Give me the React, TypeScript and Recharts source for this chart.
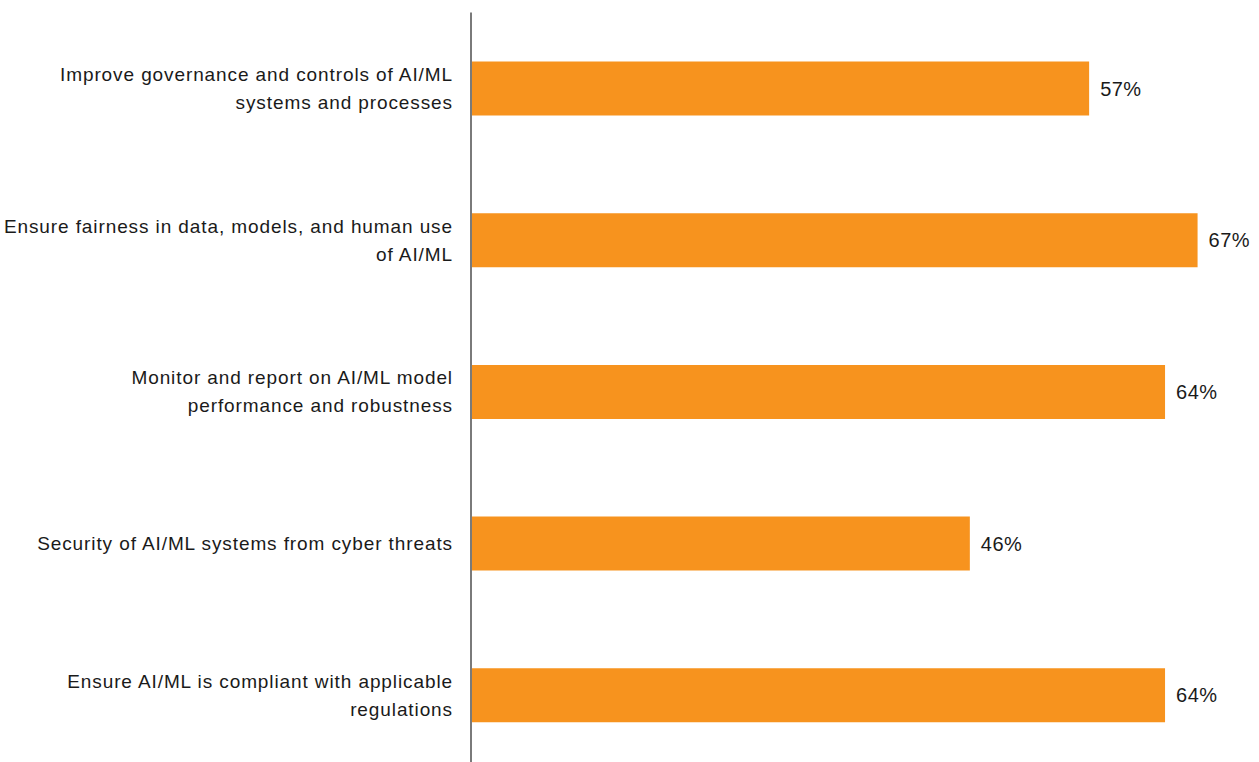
import React from "react";
import { BarChart, Bar, XAxis, YAxis, LabelList } from "recharts";

const categories: string[] = [
  "Improve governance and controls of AI/ML\nsystems and processes",
  "Ensure fairness in data, models, and human use\nof AI/ML",
  "Monitor and report on AI/ML model\nperformance and robustness",
  "Security of AI/ML systems from cyber threats",
  "Ensure AI/ML is compliant with applicable\nregulations",
];
const values: number[] = [57, 67, 64, 46, 64];

const data = categories.map((c, i) => ({ name: c, value: values[i] }));

const FONT = "'Liberation Sans', Arial, Helvetica, sans-serif";

const CategoryTick = (props: any) => {
  const { x, y, payload } = props;
  const lines: string[] = String(payload.value).split("\n");
  const lh = 28;
  const start = -((lines.length - 1) * lh) / 2;
  return (
    <g transform={`translate(${x},${y})`}>
      {lines.map((l, i) => (
        <text
          key={i}
          x={0}
          y={start + i * lh}
          dy="0.35em"
          textAnchor="end"
          fill="#1a1a1a"
          fontSize={19}
          letterSpacing={0.9}
          fontFamily={FONT}
        >
          {l}
        </text>
      ))}
    </g>
  );
};

export default function App() {
  return (
    <div
      style={{
        position: "fixed",
        left: 0,
        top: 0,
        width: 1259,
        height: 762,
        overflow: "hidden",
        background: "#fff",
      }}
    >
      <BarChart
        width={1259}
        height={780}
        data={data}
        layout="vertical"
        margin={{ top: 12.5, right: 56, bottom: 9, left: 0 }}
      >
        <XAxis type="number" domain={[0, 67.5]} hide />
        <YAxis
          type="category"
          dataKey="name"
          width={471}
          axisLine={{ stroke: "#7a7a7a", strokeWidth: 2 }}
          tickLine={false}
          tick={<CategoryTick />}
          tickMargin={12}
          interval={0}
        />
        <Bar dataKey="value" fill="#F7931E" barSize={54} isAnimationActive={false}>
          <LabelList
            dataKey="value"
            position="right"
            offset={11}
            formatter={(v: any) => `${v}%`}
            fill="#1a1a1a"
            fontSize={20}
            letterSpacing={0.5}
            fontFamily={FONT}
          />
        </Bar>
      </BarChart>
    </div>
  );
}
